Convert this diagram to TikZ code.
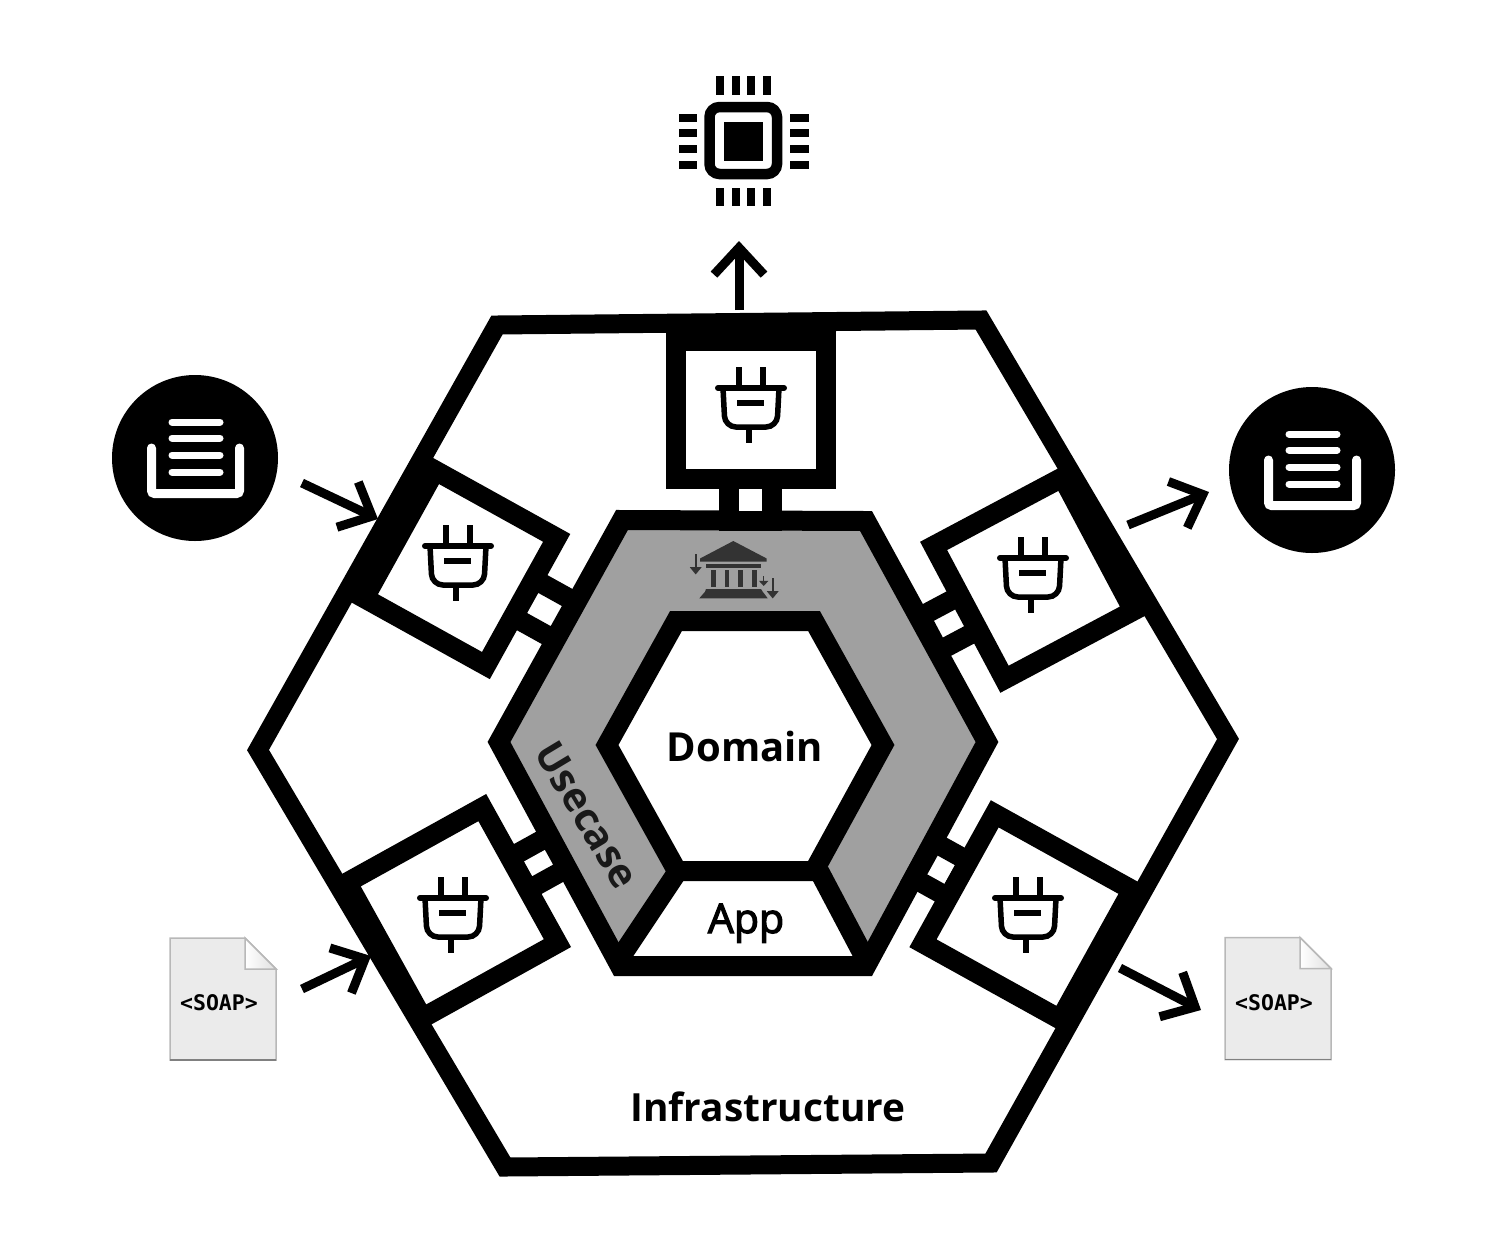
\documentclass[tikz,border=0pt]{standalone}
\usepackage{fontspec}
\setmainfont{Open Sans}
\newfontfamily\soapfont{DejaVu Sans Mono}
\usetikzlibrary{arrows.meta}

\definecolor{usecasegray}{HTML}{A0A0A0}
\definecolor{bankgray}{HTML}{333333}
\definecolor{docgray}{HTML}{EBEBEB}
\definecolor{docedge}{HTML}{B8B8B8}
\definecolor{docfoot}{HTML}{808080}

\newcommand{\heavier}[1]{\special{pdf:code q 2 Tr 1.2 w}#1\special{pdf:code Q}}

\tikzset{
    hexline/.style={line width=20pt, line join=miter},
    portbox/.style={draw, fill=white, line width=20pt, inner sep=0pt, outer sep=0pt},
    stubbox/.style={draw, fill=white, line width=20pt, inner sep=0pt, outer sep=0pt},
    flowarrow/.style={line width=9pt, -{Straight Barb[length=27pt, width=50pt, line cap=butt, line join=miter]}},
    hexlabel/.style={font=\bfseries\fontsize{40}{48}\selectfont, inner sep=0pt},
    soaplabel/.style={font=\soapfont\bfseries\fontsize{21.5}{26}\selectfont, inner sep=0pt},
    % Plug, origin on the middle of its cross bar
    plugicon/.pic={
        \draw[line width=6pt, line cap=round] (-33,0) -- (33,0);
        \draw[line width=5.5pt] (-12,-21) -- (-12,0) (12,-21) -- (12,0);
        \draw[line width=5.5pt, rounded corners=11pt] (-28,0) -- (-26,39) -- (26,39) -- (28,0);
        \draw[line width=6pt] (-14,15) -- (13,15);
        \draw[line width=5.5pt] (-2,39) -- (-2,55);
    },
    % Tray, origin on the centre of the disc
    trayicon/.pic={
        \draw[white, line width=9pt, line cap=round, rounded corners=3pt] (-43.5,-10) -- (-43.5,35.5) -- (44.5,35.5) -- (44.5,-10);
        \foreach \y in {-36,-20,-3,14} {
            \draw[white, line width=7pt, line cap=round] (-23,\y) -- (25,\y);
        }
    },
    % Paper sheet, origin on its top left corner
    docicon/.pic={
        \draw[docedge, fill=docgray, line width=1.5pt] (0,0) -- (75,0) -- (106,31) -- (106,122) -- (0,122) -- cycle;
        \draw[docedge, left color=white, right color=black!12, line width=1.5pt] (75,0) -- (106,31) -- (75,31) -- cycle;
        \draw[docfoot, line width=1.5pt] (0,122) -- (106,122);
    }
}

\begin{document}
\begin{tikzpicture}[x=1pt, y=-1pt]
    \useasboundingbox (0,0) rectangle (1501,1259);

    % Chip on top
    \draw[line width=10.5pt, rounded corners=10pt] (709.5,107) rectangle (777,174);
    \fill (724,121.5) rectangle (763,161);
    \foreach \i in {-23.5,-7.8,7.8,23.5} {
        \fill (743.3+\i-4,76) rectangle (743.3+\i+4,94.5);
        \fill (743.3+\i-4,187.5) rectangle (743.3+\i+4,206);
        \fill (678.5,141+\i-4) rectangle (697,141+\i+4);
        \fill (790,141+\i-4) rectangle (808.5,141+\i+4);
    }

    % Hexagons
    \draw[line width=19pt, line join=miter, fill=white] (497,325) -- (981,320) -- (1228,739) -- (991,1163) -- (505,1167) -- (258,750) -- cycle;
    \fill[usecasegray] (622,520) -- (866,521) -- (987,742) -- (866,966) -- (620,966) -- (499,742) -- cycle;
    \fill[white] (678,871) -- (819,871) -- (869,966) -- (614,966) -- cycle;
    \draw[hexline] (819,871) -- (866,960);
    \draw[hexline] (678,871) -- (620,958);
    \draw[hexline] (622,520) -- (866,521) -- (987,742) -- (866,966) -- (620,966) -- (499,742) -- cycle;
    \draw[hexline, fill=white] (676,621) -- (814,621) -- (883,745) -- (814,871) -- (677,871) -- (607,745) -- cycle;

    % Stubs between the usecase ring and the ports
    \foreach \n/\x/\y/\a/\w/\h in {top/750.5/500/0/42.5/42, ul/544.5/609.5/-29/47/43, ur/949/623.5/28/44/39, ll/538.5/863/29/44/37, lr/941.2/869.8/-29/40/41.5} {
        \node[stubbox, rotate=\a, minimum width=\w pt, minimum height=\h pt] (stub\n) at (\x,\y) {};
    }

    % Ports
    \foreach \n/\x/\y/\a/\w/\h in {top/751/410/0/150/138, ul/460.5/568/-29/139/146, ur/1033.5/578.3/28/146/151, ll/452.3/912.8/29/154.5/155, lr/1027.5/916.6/-29/157/148} {
        \node[portbox, rotate=\a, minimum width=\w pt, minimum height=\h pt] (port\n) at (\x,\y) {};
    }
    \foreach \x/\y in {751/388, 458/546, 1033/558, 453/898, 1028/898} {
        \pic at (\x,\y) {plugicon};
    }

    % Bank
    \fill[bankgray] (700,558.5) -- (733.3,541) -- (766.7,558.5) -- (766.7,561.5) -- (700,561.5) -- cycle;
    \fill[bankgray] (706,563.5) rectangle (760.7,567.5);
    \foreach \x in {713.3,727,740.3,754.7} {
        \fill[bankgray] (\x-2.4,569.5) rectangle (\x+2.4,586.7);
    }
    \fill[bankgray] (699.3,598.3) -- (705,591.7) -- (706,589) -- (761,589) -- (762.7,591.7) -- (767.7,598.3) -- cycle;
    \foreach \x/\a/\b/\t in {695.7/554/574.5/2.2, 772.7/578.3/598.5/2.2, 763.7/576/586/1.3} {
        \draw[bankgray, line width=\t pt, -{Triangle[length=2.4*\t pt+2pt, width=2.4*\t pt+6pt]}] (\x,\a) -- (\x,\b);
    }

    % Discs and documents
    \node[circle, fill, inner sep=0pt, minimum size=166pt] (discleft) at (195,458) {};
    \node[circle, fill, inner sep=0pt, minimum size=166pt] (discright) at (1312,470) {};
    \pic at (195,458) {trayicon};
    \pic at (1312,470) {trayicon};
    \pic at (170,938) {docicon};
    \pic at (1225,937.5) {docicon};
    \node[soaplabel] (soapleft) at (219,1003) {<SOAP>};
    \node[soaplabel] (soapright) at (1274,1002.5) {<SOAP>};

    % Arrows
    \foreach \n/\x/\y/\u/\v in {cpu/739/310/739/241, inleft/302/483/378/519, outright/1128/525/1209/492, inlow/302/989/371/956, outlow/1120/968/1201/1010} {
        \coordinate (\n tail) at (\x,\y);
        \coordinate (\n tip) at (\u,\v);
        \draw[flowarrow] (\n tail) -- (\n tip);
    }

    % Labels
    \node[hexlabel] (domain) at (745,746) {Domain};
    \node[inner sep=0pt, anchor=base, font=\fontsize{41}{48}\selectfont] (app) at (746,933) {\heavier{App}};
    \node[hexlabel, rotate=-59, text=black!90] (usecase) at (587,815) {Usecase};
    \node[hexlabel, font=\bfseries\fontsize{38.8}{46}\selectfont] (infrastructure) at (768,1107) {Infrastructure};
\end{tikzpicture}
\end{document}
